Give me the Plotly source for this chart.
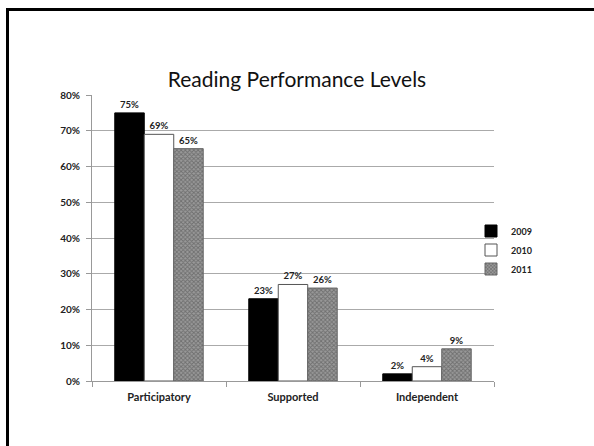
import plotly.graph_objects as go

categories = ["Participatory", "Supported", "Independent"]
years = ["2009", "2010", "2011"]
values_2009 = [0.75, 0.23, 0.02]
values_2010 = [0.69, 0.27, 0.04]
values_2011 = [0.65, 0.26, 0.09]
y_ticks = [0, 0.1, 0.2, 0.3, 0.4, 0.5, 0.6, 0.7, 0.8]

W, H = 594, 446
ML, MR, MT, MB = 92, 100, 95, 65
PW, PH = W - ML - MR, H - MT - MB

def px_x(p):
    return (p - ML) / PW

def px_y(p):
    return (H - MB - p) / PH

FONT = "Lato, 'Open Sans', sans-serif"

fig = go.Figure()
styles = [
    dict(marker_color="black", marker_line=dict(color="black", width=1)),
    dict(marker_color="white", marker_line=dict(color="#555", width=1)),
    dict(marker=dict(color="white", line=dict(color="#666", width=1),
                     pattern=dict(shape="x", size=3, solidity=0.5,
                                  fgcolor="#444", bgcolor="#9a9a9a"))),
]
for name, vals, st in zip(years, [values_2009, values_2010, values_2011], styles):
    fig.add_trace(go.Bar(
        x=categories, y=vals, name=name,
        texttemplate="<b>%{y:.0%}</b>", textposition="outside",
        textfont=dict(size=9.5, color="#222", family=FONT),
        cliponaxis=False,
        **st,
    ))

fig.update_layout(
    width=W, height=H,
    margin=dict(l=ML, r=MR, t=MT, b=MB),
    paper_bgcolor="white", plot_bgcolor="white",
    barmode="group", bargap=0.34, bargroupgap=0,
    font=dict(family=FONT, color="#222"),
    title=dict(text="Reading Performance Levels", x=0.5, xref="container",
               y=1 - 80 / H, yref="container", yanchor="middle",
               font=dict(size=21, family=FONT, color="#111")),
    legend=dict(x=px_x(471), y=px_y(250), xanchor="left", yanchor="middle",
                font=dict(size=9, family=FONT, color="#222", weight="bold"),
                bgcolor="rgba(0,0,0,0)", itemwidth=30, tracegroupgap=0),
    xaxis=dict(showline=True, linecolor="#999", linewidth=1,
               ticks="outside", tickson="boundaries", ticklen=5, tickcolor="#999",
               ticklabelstandoff=6,
               tickfont=dict(size=11, family=FONT, color="#222", weight="bold"),
               showgrid=False),
    yaxis=dict(range=[0, 0.8], tickvals=y_ticks, tickformat=".0%",
               showline=True, linecolor="#999", linewidth=1,
               ticks="outside", ticklen=5, tickcolor="#999",
               ticklabelstandoff=4,
               showgrid=True, gridcolor="#aaa", gridwidth=1,
               tickfont=dict(size=10, family=FONT, color="#222", weight="bold"),
               zeroline=False),
    shapes=[
        dict(type="line", xref="paper", yref="paper",
             x0=px_x(7.5), x1=px_x(620), y0=px_y(9.5), y1=px_y(9.5),
             line=dict(color="black", width=3)),
        dict(type="line", xref="paper", yref="paper",
             x0=px_x(7.5), x1=px_x(7.5), y0=px_y(8), y1=px_y(470),
             line=dict(color="black", width=3)),
    ],
)

fig.write_html("out.html")
